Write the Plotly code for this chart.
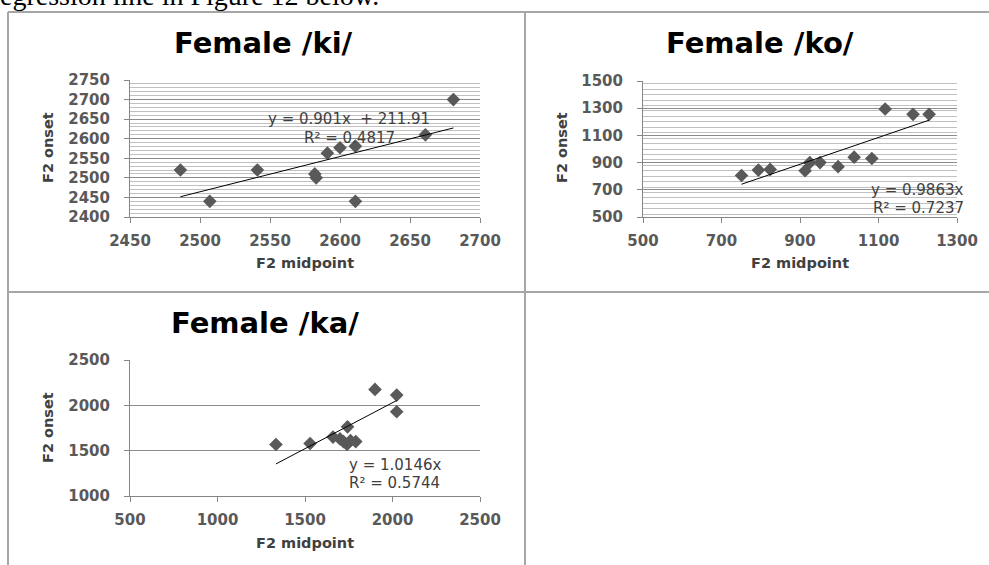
import plotly.graph_objects as go

W, H = 989, 565

# ---------------- data ----------------
ki_x = [2486, 2507, 2541, 2582, 2583, 2591, 2600, 2611, 2611, 2661, 2681]
ki_y = [2520, 2440, 2520, 2510, 2500, 2563, 2577, 2581, 2440, 2610, 2700]
ki_fit = [0.901, 211.91]          # slope, intercept
ki_eq = ["y = 0.901x  + 211.91", "R² = 0.4817"]

ko_x = [751, 794, 824, 913, 925, 951, 997, 1038, 1083, 1117, 1188, 1229]
ko_y = [805, 845, 850, 840, 900, 900, 870, 940, 930, 1294, 1255, 1255]
ko_fit = [0.9863, 0.0]
ko_eq = ["y = 0.9863x", "R² = 0.7237"]

ka_x = [1334, 1529, 1660, 1700, 1720, 1740, 1760, 1790, 1743, 1900, 2024, 2024]
ka_y = [1568, 1579, 1650, 1630, 1600, 1570, 1610, 1600, 1763, 2176, 2113, 1929]
ka_fit = [1.0146, 0.0]
ka_eq = ["y = 1.0146x", "R² = 0.5744"]

titles = ["Female /ki/", "Female /ko/", "Female /ka/"]
x_title = "F2 midpoint"
y_title = "F2 onset"
caption = "egression line in Figure 12 below."

# ---------------- helpers ----------------
def px(x):
    return x / W

def py(y):
    return 1 - y / H

TICK_FONT = dict(family="DejaVu Sans", size=15, color="#595959", weight="bold")
MARK = dict(symbol="diamond", size=10.5, color="#595959")

fig = go.Figure()

panels = [
    ("", ki_x, ki_y, ki_fit, ki_eq, [2450, 2700], 50, [2400, 2750], 50, 10, (130, 480, 80, 217)),
    ("2", ko_x, ko_y, ko_fit, ko_eq, [500, 1300], 200, [500, 1500], 200, 40, (643, 957, 81, 217)),
    ("3", ka_x, ka_y, ka_fit, ka_eq, [500, 2500], 500, [1000, 2500], 500, None, (130, 480, 360, 496)),
]

for name, xs, ys, fit, eq, xr, xd, yr, yd, ym, box in panels:
    l, r, t, b = box
    xa = "x" + name
    ya = "y" + name
    fig.add_trace(go.Scatter(x=xs, y=ys, mode="markers", marker=MARK,
                             xaxis=xa, yaxis=ya, showlegend=False))
    x0, x1 = min(xs), max(xs)
    fig.add_trace(go.Scatter(x=[x0, x1], y=[fit[0] * x0 + fit[1], fit[0] * x1 + fit[1]],
                             mode="lines", line=dict(color="black", width=1),
                             xaxis=xa, yaxis=ya, showlegend=False))
    xkey = "xaxis" + name
    ykey = "yaxis" + name
    fig.layout[xkey] = dict(
        domain=[px(l), px(r)], range=xr, dtick=xd, tick0=xr[0], anchor=ya,
        showgrid=False, zeroline=False, showline=True, linecolor="#868686", linewidth=1,
        ticks="outside", ticklen=5, tickcolor="#868686", tickfont=TICK_FONT,
        ticklabelstandoff=5, fixedrange=True, automargin=False)
    ydict = dict(
        domain=[py(b), py(t)], range=yr, dtick=yd, tick0=yr[0], anchor=xa,
        showgrid=True, gridcolor="#8c8c8c", gridwidth=1, zeroline=False,
        showline=True, linecolor="#868686", linewidth=1,
        ticks="outside", ticklen=5, tickcolor="#868686", tickfont=TICK_FONT,
        ticklabelstandoff=11, fixedrange=True, automargin=False)
    if ym:
        ydict["minor"] = dict(dtick=ym, showgrid=True, gridcolor="#c0c0c0", gridwidth=1, ticks="")
    fig.layout[ykey] = ydict

annotations = []
for txt, (cx, cy) in zip(titles, [(263, 43), (760, 43), (265, 323)]):
    annotations.append(dict(text=f"<b>{txt}</b>", x=px(cx), y=py(cy), xref="paper", yref="paper",
                            showarrow=False, xanchor="center", yanchor="middle",
                            font=dict(family="DejaVu Sans", size=29, color="black")))
for (cx, cy) in [(305, 263), (800, 263), (305, 543)]:
    annotations.append(dict(text=f"<b>{x_title}</b>", x=px(cx), y=py(cy), xref="paper", yref="paper",
                            showarrow=False, xanchor="center", yanchor="middle",
                            font=dict(family="DejaVu Sans", size=14.5, color="#404040")))
for (cx, cy) in [(48, 148), (562, 148), (48, 428)]:
    annotations.append(dict(text=f"<b>{y_title}</b>", x=px(cx), y=py(cy), xref="paper", yref="paper",
                            showarrow=False, xanchor="center", yanchor="middle", textangle=-90,
                            font=dict(family="DejaVu Sans", size=14.5, color="#404040")))
eq_pos = [(ki_eq, [(349, 119), (349, 138)], "center"),
          (ko_eq, [(869, 190), (871, 208)], "left"),
          (ka_eq, [(347, 465), (347, 483)], "left")]
for eqs, poss, anc in eq_pos:
    for txt, (cx, cy) in zip(eqs, poss):
        annotations.append(dict(text=txt, x=px(cx), y=py(cy), xref="paper", yref="paper",
                                showarrow=False, xanchor=anc, yanchor="middle",
                                font=dict(family="DejaVu Sans", size=15, color="#404040")))
annotations.append(dict(text=caption, x=px(-2), y=py(13), xref="paper", yref="paper",
                        showarrow=False, xanchor="left", yanchor="bottom",
                        font=dict(family="Liberation Serif", size=28, color="black")))

shapes = []
BORDER = dict(color="#a6a6a6", width=2)
for (x0, y0, x1, y1) in [(8, 12, W, 12), (8, 12, 8, H), (525, 12, 525, H), (8, 292, W, 292)]:
    shapes.append(dict(type="line", xref="paper", yref="paper",
                       x0=px(x0), y0=py(y0), x1=px(x1), y1=py(y1), line=BORDER))

fig.update_layout(width=W, height=H, margin=dict(l=0, r=0, t=0, b=0, pad=0, autoexpand=False),
                  paper_bgcolor="white", plot_bgcolor="white",
                  annotations=annotations, shapes=shapes, showlegend=False)

fig.write_html("out.html", config={"displayModeBar": False},
               post_script="document.body.style.margin='0';")
